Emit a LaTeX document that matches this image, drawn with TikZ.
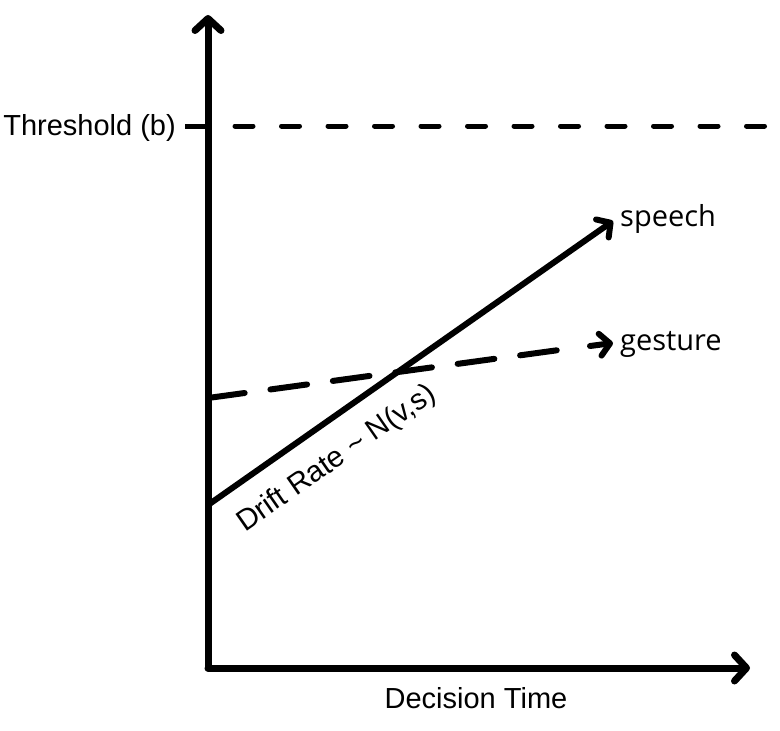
\documentclass[tikz,border=0pt]{standalone}
\usepackage{fontspec}
\setmainfont{Liberation Sans}
\newfontfamily\labfont{Open Sans}
\usetikzlibrary{arrows.meta}
\begin{document}
\begin{tikzpicture}[x=1pt,y=-1pt,
  barb/.tip={Straight Barb[length=12pt,width=26pt,round]},
  smallbarb/.tip={Straight Barb[length=10pt,width=22pt,round]},
  axisline/.style={line width=7pt, line cap=round, -barb},
  speechline/.style={line width=6pt, line cap=round, -smallbarb},
  gestline/.style={line width=6pt, line cap=round, dash pattern=on 37pt off 26pt},
  thrline/.style={line width=5pt, line cap=round, dash pattern=on 18pt off 28.5pt},
  helv/.style={font=\fontsize{29}{34}\selectfont, inner sep=0pt},
  lab/.style={font=\labfont\fontsize{29}{34}\selectfont, inner sep=0pt}
]
\useasboundingbox (0,0) rectangle (780,731);
% coordinates
\coordinate (O) at (208,668);
\coordinate (Ytop) at (208,15);
\coordinate (Xend) at (750,668);
\coordinate (T0) at (185,126);
\coordinate (T1) at (208,126);
\coordinate (D0) at (235,126);
\coordinate (D1) at (790,126);
\coordinate (S0) at (208,505);
\coordinate (S1) at (613,221);
\coordinate (G0) at (208,398);
\coordinate (G1) at (570,348.5);
\coordinate (G2) at (590,346);
\coordinate (G3) at (613,343);
% axes
\draw[axisline] (O) -- (Ytop);
\draw[axisline] (O) -- (Xend);
% threshold
\draw[line width=5pt] (T0) -- (T1);
\draw[thrline] (D0) -- (D1);
\node[helv, anchor=base east] (thr) at (176,135) {Threshold (b)};
% speech
\draw[speechline] (S0) -- (S1);
\node[helv, rotate=34.8, font=\fontsize{29.5}{34}\selectfont] (drift) at (337,459) {Drift Rate \textasciitilde\ N(v,s)};
\node[lab, anchor=base west] (speech) at (620,226) {speech};
% gesture
\draw[gestline] (G0) -- (G1);
\draw[speechline] (G2) -- (G3);
\node[lab, anchor=base west] (gesture) at (620,350) {gesture};
% x label
\node[helv, anchor=base] (dt) at (476,708) {Decision Time};
\end{tikzpicture}
\end{document}
